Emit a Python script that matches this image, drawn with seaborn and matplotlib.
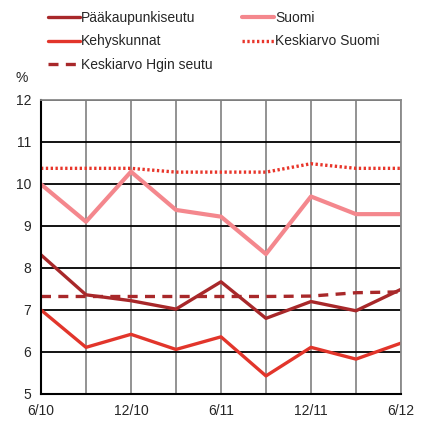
import matplotlib
matplotlib.use('Agg')
import matplotlib.pyplot as plt
import seaborn as sns
import pandas as pd

quarters = ['6/10', '9/10', '12/10', '3/11', '6/11', '9/11', '12/11', '3/12', '6/12']
tick_labels = ['6/10', '', '12/10', '', '6/11', '', '12/11', '', '6/12']

paakaupunkiseutu = [8.31, 7.36, 7.22, 7.02, 7.67, 6.80, 7.20, 6.98, 7.49]
kehyskunnat = [7.0, 6.11, 6.42, 6.06, 6.36, 5.43, 6.11, 5.83, 6.21]
keskiarvo_hgin = [7.32, 7.32, 7.32, 7.32, 7.32, 7.32, 7.33, 7.41, 7.43]
suomi = [9.99, 9.10, 10.29, 9.38, 9.22, 8.33, 9.70, 9.28, 9.28]
keskiarvo_suomi = [10.37, 10.37, 10.37, 10.28, 10.28, 10.28, 10.48, 10.37, 10.37]

series = [
    ('Pääkaupunkiseutu', paakaupunkiseutu, '#A8282A', '-', 2.4),
    ('Kehyskunnat', kehyskunnat, '#E2352B', '-', 2.4),
    ('Keskiarvo Hgin seutu', keskiarvo_hgin, '#A8282A', (0, (3, 2.2)), 2.4),
    ('Suomi', suomi, '#F4878D', '-', 3.0),
    ('Keskiarvo Suomi', keskiarvo_suomi, '#E8352A', (0, (0.7, 0.75)), 2.4),
]


def main():
    sns.set_style('white')
    plt.rcParams['font.family'] = ['Liberation Sans', 'DejaVu Sans']
    fig = plt.figure(figsize=(4.27, 4.22), dpi=100)
    ax = fig.add_axes([0.096, 0.0664, 0.843, 0.697])

    for name, values, color, style, lw in series:
        df = pd.DataFrame({'x': range(len(quarters)), 'y': values})
        sns.lineplot(data=df, x='x', y='y', ax=ax, color=color, linestyle=style,
                     linewidth=lw, label=name)

    ax.set_xlim(0, len(quarters) - 1)
    ax.set_ylim(5, 12)
    ax.set_xticks(range(len(quarters)))
    ax.set_xticklabels(tick_labels)
    ax.set_yticks(range(5, 13))
    ax.set_xlabel('')
    ax.set_ylabel('')
    ax.grid(axis='x', color='#8a8a8a', linewidth=1.3, zorder=0)
    ax.grid(axis='y', color='black', linewidth=1.3, zorder=0)
    ax.set_axisbelow(True)
    for side in ['top', 'right']:
        ax.spines[side].set_color('#8a8a8a')
        ax.spines[side].set_linewidth(1.3)
    for side in ['left', 'bottom']:
        ax.spines[side].set_color('black')
        ax.spines[side].set_linewidth(1.5)
    ax.tick_params(axis='both', direction='out', length=4, width=1.3, color='black',
                   labelsize=10, pad=3)

    ax.text(-0.055, 1.075, '%', transform=ax.transAxes, fontsize=10,
            ha='center', va='center')

    ax.legend(ncol=2, loc='upper left', bbox_to_anchor=(48 / 427, 1 - 11 / 422),
              bbox_transform=fig.transFigure, frameon=False,
              fontsize=10, handlelength=2.3, handletextpad=0.08, columnspacing=2.1,
              labelspacing=0.68, borderaxespad=0, borderpad=0)

    fig.savefig('out.png', dpi=100)


if __name__ == '__main__':
    main()
